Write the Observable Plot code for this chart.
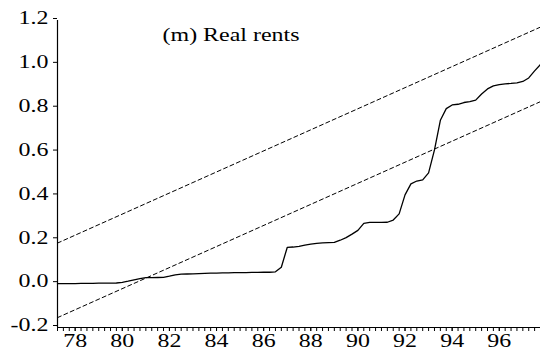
<!DOCTYPE html>
<html>
<head>
<meta charset="utf-8">
<script src="https://cdn.jsdelivr.net/npm/d3@7"></script>
<script src="https://cdn.jsdelivr.net/npm/@observablehq/plot@0.6"></script>
<style>
  html, body { margin: 0; padding: 0; background: #fff; }
  #chart svg { display: block; }
</style>
</head>
<body>
<div id="chart"></div>
<script>
// Quarterly observations, 1977Q2 .. 1997Q4 (x in two-digit years, quarter = 0.25)
const firstQuarter = 77.25;
const cusumSq = [
  0.000, 0.000, 0.000, 0.000, 0.001, 0.001, 0.001, 0.002, 0.002, 0.002, 0.003,
  0.006, 0.011, 0.017, 0.023, 0.027, 0.027, 0.028, 0.029, 0.034, 0.040, 0.043,
  0.044, 0.045, 0.046, 0.047, 0.048, 0.048, 0.049, 0.049, 0.050, 0.050, 0.050,
  0.051, 0.051, 0.052, 0.052, 0.054, 0.075, 0.165, 0.167, 0.170, 0.176, 0.180,
  0.184, 0.186, 0.187, 0.188, 0.198, 0.210, 0.226, 0.243, 0.275, 0.279, 0.279,
  0.279, 0.280, 0.290, 0.318, 0.405, 0.455, 0.468, 0.473, 0.505, 0.610, 0.745,
  0.798, 0.815, 0.818, 0.826, 0.830, 0.837, 0.865, 0.888, 0.902, 0.908, 0.911,
  0.913, 0.916, 0.922, 0.938, 0.970, 1.000
];
// 5% significance bounds (straight lines between the sample endpoints)
const boundX = [77.25, 97.75];
const upperBound = [0.185, 1.17];
const lowerBound = [-0.155, 0.83];

const yTicks = [-0.2, 0.0, 0.2, 0.4, 0.6, 0.8, 1.0, 1.2];
const yearLabels = [78, 80, 82, 84, 86, 88, 90, 92, 94, 96];
const title = "(m) Real rents";

const series = cusumSq.map((v, i) => ({x: firstQuarter + i * 0.25, y: v}));
const quarterTicks = series.map(d => d.x);
const upper = boundX.map((x, i) => ({x, y: upperBound[i]}));
const lower = boundX.map((x, i) => ({x, y: lowerBound[i]}));

const font = "'Liberation Serif', 'Times New Roman', serif";

const chart = Plot.plot({
  width: 540,
  height: 355,
  marginLeft: 57,
  marginRight: 0,
  marginTop: 20,
  marginBottom: 28,
  style: {fontFamily: font, fontSize: "18px", color: "#000", background: "#fff"},
  x: {domain: [77.25, 97.75], label: null},
  y: {domain: [-0.2, 1.2], label: null},
  marks: [
    // quarterly minor ticks
    Plot.axisX({ticks: quarterTicks, tickSize: 4, tickFormat: () => "", label: null, strokeWidth: 1}),
    // year labels
    Plot.axisX({ticks: yearLabels, tickSize: 4, tickPadding: 3, tickFormat: d => String(d), label: null, fontSize: 18}),
    Plot.axisY({ticks: yTicks, tickSize: 4, tickPadding: 5, tickFormat: d => d.toFixed(1), label: null, fontSize: 18, dy: -2}),
    Plot.ruleX([77.25], {stroke: "#000", strokeWidth: 1.2}),
    Plot.ruleY([-0.2], {stroke: "#000", strokeWidth: 1.2}),
    Plot.line(upper, {x: "x", y: "y", stroke: "#000", strokeWidth: 1, strokeDasharray: "4,3"}),
    Plot.line(lower, {x: "x", y: "y", stroke: "#000", strokeWidth: 1, strokeDasharray: "4,3"}),
    Plot.line(series, {x: "x", y: "y", stroke: "#000", strokeWidth: 1.3}),
    Plot.text([title], {frameAnchor: "top", dx: -68, dy: 8, lineAnchor: "top", fontSize: 18, fill: "#000"})
  ]
});

document.getElementById("chart").appendChild(chart);

// widen the serif lettering horizontally
const stretch = 1.33;
chart.querySelectorAll("text").forEach(t => {
  const len = t.getComputedTextLength();
  if (len > 0) {
    t.setAttribute("textLength", (len * stretch).toFixed(1));
    t.setAttribute("lengthAdjust", "spacingAndGlyphs");
  }
});
</script>
</body>
</html>
